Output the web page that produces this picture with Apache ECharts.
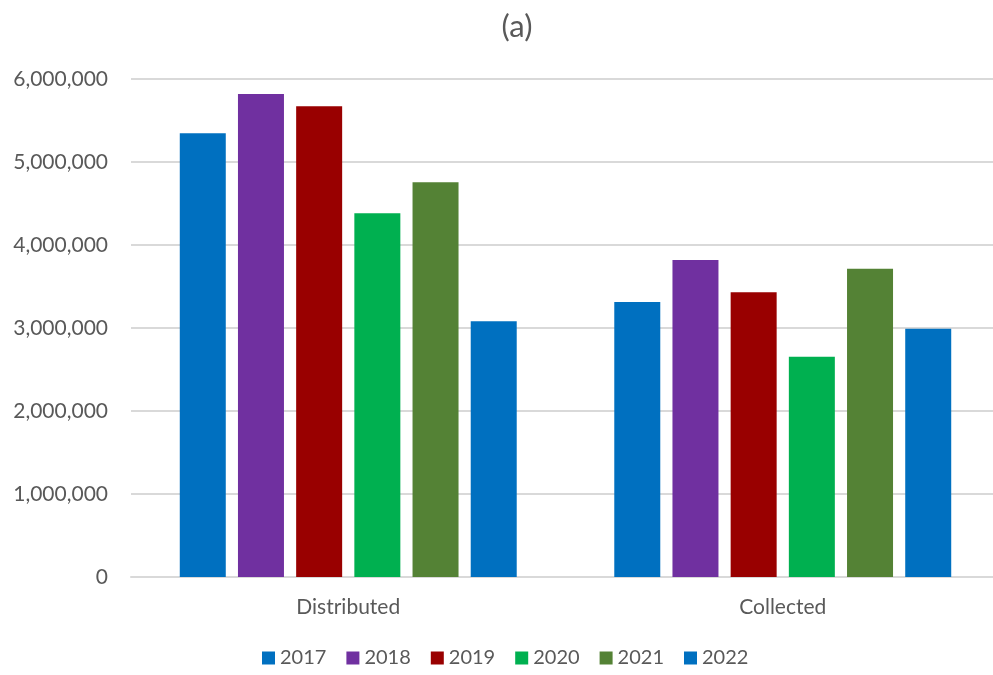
<!DOCTYPE html>
<html>
<head>
<meta charset="utf-8">
<script src="https://cdn.jsdelivr.net/npm/echarts@6/dist/echarts.min.js"></script>
<style>html,body{margin:0;padding:0;background:#fff;overflow:hidden}#c{width:1000px;height:675px}</style>
</head>
<body>
<div id="c"></div>
<script>
const categories = ['Distributed', 'Collected'];
const years = ['2017', '2018', '2019', '2020', '2021', '2022'];
const v2017 = [5346000, 3313000];
const v2018 = [5819000, 3819000];
const v2019 = [5671000, 3430000];
const v2020 = [4382000, 2654000];
const v2021 = [4755000, 3715000];
const v2022 = [3081000, 2992000];
const yTicks = [0, 1000000, 2000000, 3000000, 4000000, 5000000, 6000000];

const values = [v2017, v2018, v2019, v2020, v2021, v2022];
const colors = ['#0070C0', '#7030A0', '#990000', '#00B050', '#548235', '#0070C0'];
const FONT = 'Lato';

const chart = echarts.init(document.getElementById('c'), null, {renderer: 'canvas'});
chart.setOption({
  animation: false,
  textStyle: {fontFamily: FONT},
  title: {
    text: '(a)', left: 512, textAlign: 'center', top: 6,
    textStyle: {fontFamily: FONT, fontSize: 31, fontWeight: 'normal', color: '#595959'}
  },
  legend: {
    bottom: 2, left: 257,
    itemWidth: 13, itemHeight: 13, itemGap: 20,
    icon: 'rect',
    textStyle: {fontFamily: FONT, fontSize: 20, color: '#595959'},
    data: years
  },
  grid: {left: 131, right: 0, top: 79, bottom: 98, containLabel: false},
  xAxis: {
    type: 'category', data: categories,
    axisLine: {lineStyle: {color: '#d9d9d9', width: 2}},
    axisTick: {show: false},
    axisLabel: {fontFamily: FONT, fontSize: 21, color: '#595959', margin: 20}
  },
  yAxis: {
    type: 'value', min: yTicks[0], max: yTicks[yTicks.length - 1], interval: 1000000,
    axisLine: {show: false}, axisTick: {show: false},
    splitLine: {lineStyle: {color: '#d9d9d9', width: 2}},
    axisLabel: {
      fontFamily: FONT, fontSize: 21, color: '#595959', margin: 23,
      formatter: v => v.toLocaleString('en-US')
    }
  },
  series: years.map((y, i) => ({
    name: y, type: 'bar', data: values[i],
    barWidth: 46, barGap: '26.5%',
    itemStyle: {color: colors[i]}
  }))
});
</script>
</body>
</html>
